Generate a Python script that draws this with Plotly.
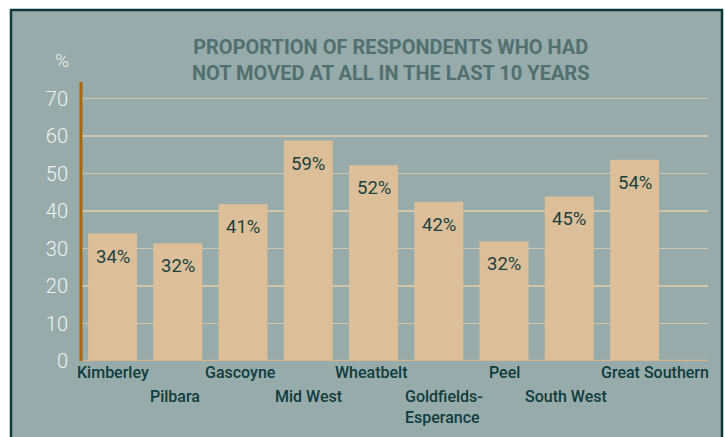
import plotly.graph_objects as go

# ---- data ----
regions = ["Kimberley", "Pilbara", "Gascoyne", "Mid West", "Wheatbelt",
           "Goldfields-Esperance", "Peel", "South West", "Great Southern"]
values = [34.0, 31.4, 41.8, 58.8, 52.2, 42.5, 31.9, 43.9, 53.7]
value_labels = ["34%", "32%", "41%", "59%", "52%", "42%", "32%", "45%", "54%"]
y_ticks = [0, 10, 20, 30, 40, 50, 60, 70]
title_lines = ["PROPORTION OF RESPONDENTS WHO HAD", "NOT MOVED AT ALL IN THE LAST 10 YEARS"]

# ---- layout geometry (pixels) ----
W, H = 725, 437
ML, MR, MT, MB = 81, 17, 82, 76
PW, PH = W - ML - MR, H - MT - MB

def pxx(px):
    return (px - ML) / PW

def pxy(py):
    return (H - MB - py) / PH

BG = "#97abaa"
BAR = "#dcbf98"
GRID = "#d5c5a8"
TXT_DARK = "#0f3d3d"
CAT_FONT = dict(family="Roboto, Arial", size=16, color=TXT_DARK, weight=500)

x_idx = list(range(len(regions)))

fig = go.Figure()
fig.add_trace(go.Bar(
    x=x_idx, y=values, width=0.75,
    marker=dict(color=BAR, line=dict(width=0)),
    hoverinfo="skip",
))

annotations = []
# value labels inside bars
for i, (v, t) in enumerate(zip(values, value_labels)):
    annotations.append(dict(x=i, y=v, xref="x", yref="y", text=t, showarrow=False,
                            yshift=-23, yanchor="middle",
                            font=dict(family="Roboto, Arial", size=18.5, color="#1a4242", weight=400)))

# category labels: staggered rows (row 0 / row 1)
ROW_PX = [372.5, 396.5]
rows = [0, 1, 0, 1, 0, 1, 0, 1, 0]
for i, name in enumerate(regions):
    if name == "Goldfields-Esperance":
        annotations.append(dict(x=i, y=pxy(407), xref="x", yref="paper",
                                text="Goldfields-<br>Esperance", showarrow=False,
                                xanchor="left", yanchor="middle", align="left", xshift=-36,
                                font=CAT_FONT))
    elif name == "Great Southern":
        annotations.append(dict(x=i, y=pxy(ROW_PX[rows[i]]), xref="x", yref="paper",
                                text=name, showarrow=False,
                                xanchor="left", yanchor="middle", xshift=-36, font=CAT_FONT))
    else:
        shift = -3 if name in ("Pilbara", "Wheatbelt", "Gascoyne", "South West") else 0
        annotations.append(dict(x=i, y=pxy(ROW_PX[rows[i]]), xref="x", yref="paper",
                                text=name, showarrow=False,
                                xanchor="center", yanchor="middle", xshift=shift, font=CAT_FONT))

# title
annotations.append(dict(x=pxx(390), y=pxy(59.5), xref="paper", yref="paper",
                        text="<br>".join(title_lines), showarrow=False,
                        xanchor="center", yanchor="middle", align="center",
                        font=dict(family="Liberation Sans Narrow, Arial Narrow, Roboto", size=20,
                                  color="#52706f", weight="bold")))
# % unit
annotations.append(dict(x=pxx(61.5), y=pxy(60.5), xref="paper", yref="paper",
                        text="%", showarrow=False, xanchor="center", yanchor="middle",
                        font=dict(family="Roboto, Arial", size=19, color="#eef2f0", weight=300)))

shapes = [
    # outer panel with dark border
    dict(type="rect", xref="paper", yref="paper",
         x0=pxx(11), x1=pxx(722), y0=pxy(460), y1=pxy(10),
         fillcolor=BG, line=dict(color="#103a3a", width=2.5), layer="below"),
    # zero baseline
    dict(type="line", xref="paper", yref="y", x0=0, x1=pxx(707), y0=0, y1=0,
         line=dict(color="#d9b68a", width=2.5), layer="above"),
    # left axis line
    dict(type="line", xref="paper", yref="paper", x0=pxx(81), x1=pxx(81), y0=0, y1=1,
         line=dict(color="#a8660f", width=3), layer="above"),
]

fig.update_layout(
    width=W, height=H,
    margin=dict(l=ML, r=MR, t=MT, b=MB),
    paper_bgcolor="white",
    plot_bgcolor="rgba(0,0,0,0)",
    showlegend=False,
    annotations=annotations,
    shapes=shapes,
    xaxis=dict(range=[-0.483, 9.126], showticklabels=False, showgrid=False,
               zeroline=False, showline=False, fixedrange=True),
    yaxis=dict(range=[0, 74.4], tickvals=y_ticks, showgrid=True, gridcolor=GRID,
               gridwidth=1.5, zeroline=False, showline=False,
               tickfont=dict(family="Roboto, Arial", size=20, color="#eef2f0", weight=300),
               ticks="", ticklabelstandoff=12, fixedrange=True),
)

fig.write_html("out.html", config={"displayModeBar": False, "staticPlot": True},
               post_script="document.body.style.margin='0';document.body.style.padding='0';")
